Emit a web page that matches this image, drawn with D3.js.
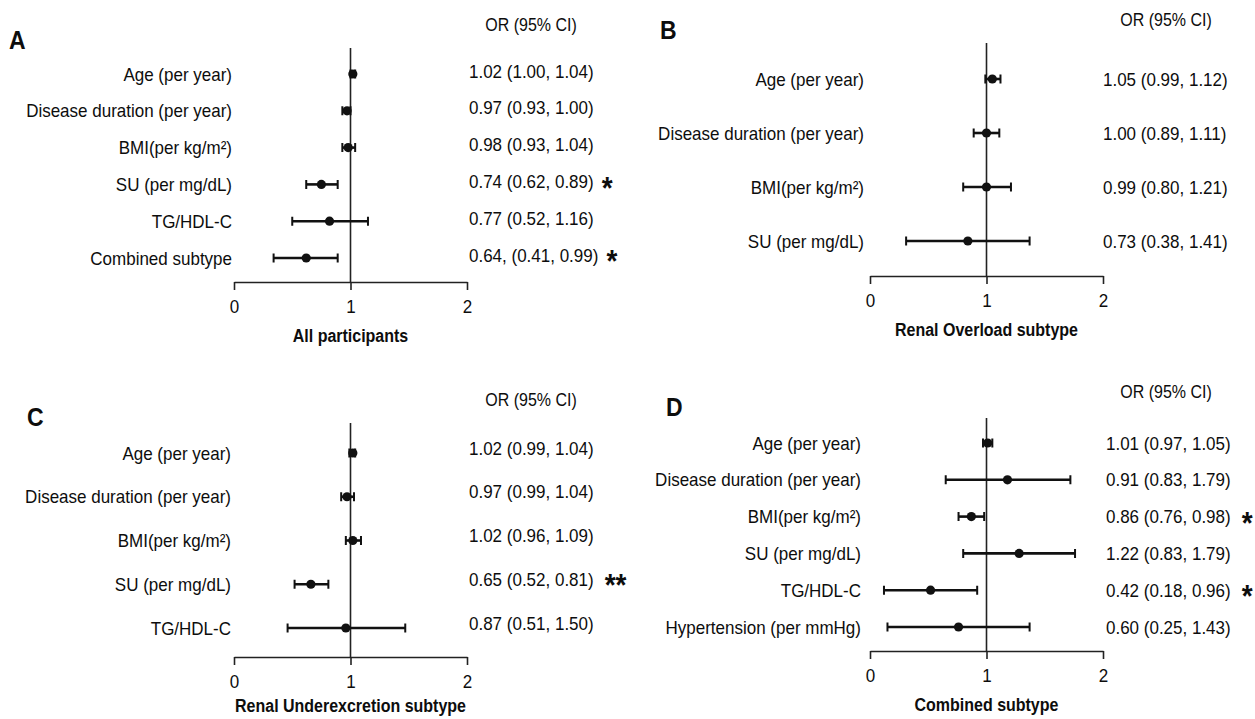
<!DOCTYPE html>
<html>
<head>
<meta charset="utf-8">
<script src="https://cdn.jsdelivr.net/npm/d3@7"></script>
<style>
  body { margin: 0; background: #fff; }
  svg text {
    font-family: 'Liberation Sans', Arial, sans-serif;
    fill: #0d0d0d;
    /* the source figure is slightly stretched vertically */
    transform-box: fill-box;
    transform-origin: center;
    transform: scaleY(1.1);
  }
</style>
</head>
<body>
<svg id="chart" width="1255" height="719"></svg>
<script>
// Panel A - all participants
const itemsA = ['Age (per year)', 'Disease duration (per year)', 'BMI(per kg/m²)', 'SU (per mg/dL)', 'TG/HDL-C', 'Combined subtype']
const orA = [1.02, 0.97, 0.98, 0.75, 0.82, 0.62]
const loA = [1.00, 0.93, 0.93, 0.62, 0.50, 0.34]
const hiA = [1.04, 1.00, 1.04, 0.89, 1.15, 0.89]
const textA = ['1.02 (1.00, 1.04)', '0.97 (0.93, 1.00)', '0.98 (0.93, 1.04)', '0.74 (0.62, 0.89)', '0.77 (0.52, 1.16)', '0.64, (0.41, 0.99)']
const starsA = ['', '', '', '*', '', '*']

// Panel B - renal overload
const itemsB = ['Age (per year)', 'Disease duration (per year)', 'BMI(per kg/m²)', 'SU (per mg/dL)']
const orB = [1.05, 1.00, 1.00, 0.84]
const loB = [0.99, 0.89, 0.80, 0.31]
const hiB = [1.12, 1.11, 1.21, 1.37]
const textB = ['1.05 (0.99, 1.12)', '1.00 (0.89, 1.11)', '0.99 (0.80, 1.21)', '0.73 (0.38, 1.41)']
const starsB = ['', '', '', '']

// Panel C - renal underexcretion
const itemsC = ['Age (per year)', 'Disease duration (per year)', 'BMI(per kg/m²)', 'SU (per mg/dL)', 'TG/HDL-C']
const orC = [1.02, 0.97, 1.02, 0.66, 0.96]
const loC = [0.99, 0.92, 0.96, 0.52, 0.46]
const hiC = [1.04, 1.03, 1.09, 0.81, 1.47]
const textC = ['1.02 (0.99, 1.04)', '0.97 (0.99, 1.04)', '1.02 (0.96, 1.09)', '0.65 (0.52, 0.81)', '0.87 (0.51, 1.50)']
const starsC = ['', '', '', '**', '']

// Panel D - combined subtype
const itemsD = ['Age (per year)', 'Disease duration (per year)', 'BMI(per kg/m²)', 'SU (per mg/dL)', 'TG/HDL-C', 'Hypertension (per mmHg)']
const orD = [1.01, 1.18, 0.87, 1.28, 0.52, 0.76]
const loD = [0.97, 0.65, 0.76, 0.80, 0.12, 0.15]
const hiD = [1.05, 1.72, 0.98, 1.76, 0.92, 1.37]
const textD = ['1.01 (0.97, 1.05)', '0.91 (0.83, 1.79)', '0.86 (0.76, 0.98)', '1.22 (0.83, 1.79)', '0.42 (0.18, 0.96)', '0.60 (0.25, 1.43)']
const starsD = ['', '', '*', '', '*', '']

const xTicks = [0, 1, 2]
const header = 'OR (95% CI)'

const panels = [
  { letter: 'A', title: 'All participants', items: itemsA, or: orA, lo: loA, hi: hiA, text: textA, stars: starsA,
    lx: 9, ly: 48, x0: 234, x1: 467, top: 48, rows: [74, 258], axisY: 282, titleDy: 59, labelX: 232, valueX: 469, valueDy: -3, headX: 531, headY: 30, starGap: 8 },
  { letter: 'B', title: 'Renal Overload subtype', items: itemsB, or: orB, lo: loB, hi: hiB, text: textB, stars: starsB,
    lx: 660, ly: 38, x0: 870, x1: 1103, top: 43, rows: [79, 241], axisY: 276, titleDy: 59, labelX: 864, valueX: 1103, valueDy: 0, headX: 1166, headY: 25, starGap: 8 },
  { letter: 'C', title: 'Renal Underexcretion subtype', items: itemsC, or: orC, lo: loC, hi: hiC, text: textC, stars: starsC,
    lx: 27, ly: 425, x0: 234, x1: 467, top: 423, rows: [453, 628], axisY: 657, titleDy: 54, labelX: 231, valueX: 469, valueDy: -5, headX: 531, headY: 405, starGap: 11 },
  { letter: 'D', title: 'Combined subtype', items: itemsD, or: orD, lo: loD, hi: hiD, text: textD, stars: starsD,
    lx: 666, ly: 415, x0: 870, x1: 1103, top: 418, rows: [443, 627], axisY: 651, titleDy: 59, labelX: 861, valueX: 1106, valueDy: 0, headX: 1166, headY: 397, starGap: 11 },
]

const svg = d3.select('#chart')

panels.forEach(p => {
  const g = svg.append('g')
  const rows = p.items.map((name, i) => ({ name, or: p.or[i], lo: p.lo[i], hi: p.hi[i], text: p.text[i], star: p.stars[i] }))

  const x = d3.scaleLinear().domain([0, 2]).range([p.x0, p.x1])
  const y = d3.scalePoint().domain(p.items).range(p.rows)

  // panel letter
  g.append('text')
    .attr('x', p.lx).attr('y', p.ly)
    .attr('font-size', 23).attr('font-weight', 'bold')
    .text(p.letter)

  // OR header
  g.append('text')
    .attr('x', p.headX).attr('y', p.headY)
    .attr('text-anchor', 'middle')
    .attr('font-size', 16)
    .text(header)

  // x axis
  g.append('g')
    .attr('transform', 'translate(0,' + p.axisY + ')')
    .call(d3.axisBottom(x).tickValues(xTicks).tickFormat(d3.format('d')).tickSize(8).tickSizeOuter(0).tickPadding(10))
    .call(a => a.select('.domain').attr('stroke', '#222').attr('stroke-width', 1.6))
    .call(a => a.selectAll('.tick line').attr('stroke', '#222').attr('stroke-width', 1.6))
    .call(a => a.selectAll('.tick text').attr('font-size', 17).attr('fill', '#0d0d0d')
      .attr('font-family', "'Liberation Sans', Arial, sans-serif"))

  // reference line at OR = 1
  g.append('line')
    .attr('x1', x(1)).attr('x2', x(1))
    .attr('y1', p.top).attr('y2', p.axisY)
    .attr('stroke', '#222').attr('stroke-width', 1.6)

  // axis title
  g.append('text')
    .attr('x', x(1)).attr('y', p.axisY + p.titleDy)
    .attr('text-anchor', 'middle')
    .attr('font-size', 16).attr('font-weight', 'bold')
    .text(p.title)

  // row labels
  g.append('g').selectAll('text')
    .data(rows)
    .join('text')
      .attr('x', p.labelX)
      .attr('y', d => y(d.name))
      .attr('dy', '0.36em')
      .attr('text-anchor', 'end')
      .attr('font-size', 17)
      .text(d => d.name)

  // error bars
  const bars = g.append('g').attr('stroke', '#111')
  bars.selectAll('line.ci')
    .data(rows)
    .join('line')
      .attr('class', 'ci')
      .attr('x1', d => x(d.lo)).attr('x2', d => x(d.hi))
      .attr('y1', d => y(d.name)).attr('y2', d => y(d.name))
      .attr('stroke-width', 2.6)
  bars.selectAll('path.cap')
    .data(rows)
    .join('path')
      .attr('class', 'cap')
      .attr('d', d => {
        const yy = y(d.name)
        return 'M' + x(d.lo) + ',' + (yy - 4.5) + 'V' + (yy + 4.5) +
               'M' + x(d.hi) + ',' + (yy - 4.5) + 'V' + (yy + 4.5)
      })
      .attr('stroke-width', 2)
      .attr('fill', 'none')
  g.append('g').selectAll('circle')
    .data(rows)
    .join('circle')
      .attr('cx', d => x(d.or))
      .attr('cy', d => y(d.name))
      .attr('r', 4.6)
      .attr('fill', '#111')

  // OR (95% CI) values
  const vals = g.append('g').selectAll('text.val')
    .data(rows)
    .join('text')
      .attr('class', 'val')
      .attr('x', p.valueX)
      .attr('y', d => y(d.name) + p.valueDy)
      .attr('dy', '0.36em')
      .attr('font-size', 17)
      .text(d => d.text)

  vals.each(function (d) {
    if (!d.star) return
    const w = this.getComputedTextLength()
    g.append('text')
      .attr('x', p.valueX + w + p.starGap)
      .attr('y', y(d.name) + p.valueDy)
      .attr('dy', '0.58em')
      .attr('font-size', 28)
      .attr('font-weight', 'bold')
      .text(d.star)
  })
})
</script>
</body>
</html>
